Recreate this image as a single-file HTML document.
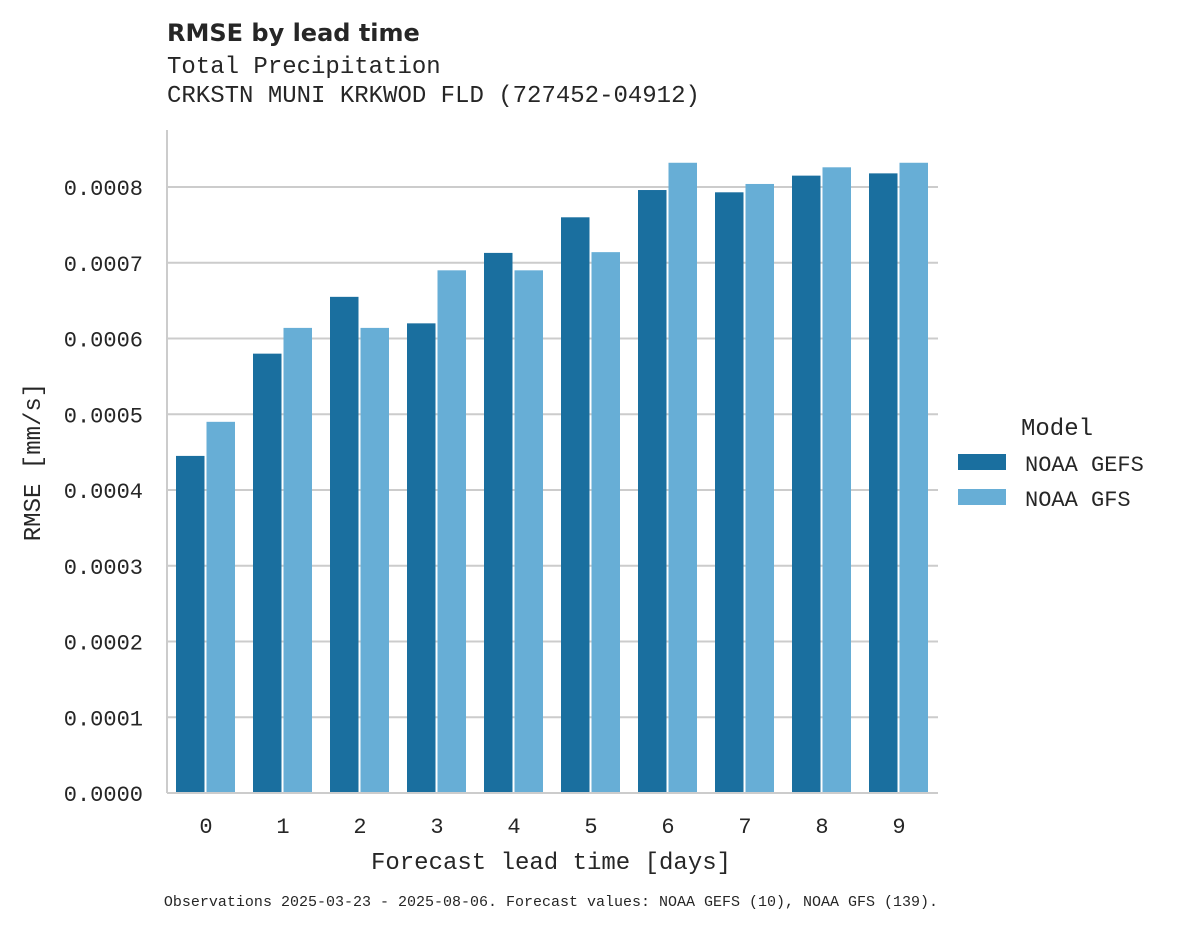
<!DOCTYPE html>
<html><head><meta charset="utf-8"><style>
body{margin:0;background:#fff;}
svg text{fill:#262626;}
.mono{font-family:"Liberation Mono","DejaVu Sans Mono",monospace;}
</style></head><body>
<svg width="1178" height="928" xmlns="http://www.w3.org/2000/svg">
<text x="167" y="41" font-family="'DejaVu Sans','Liberation Sans',sans-serif" font-weight="bold" font-size="24">RMSE by lead time</text>
<text class="mono" x="167" y="73" font-size="24">Total Precipitation</text>
<text class="mono" x="167" y="102" font-size="24">CRKSTN MUNI KRKWOD FLD (727452-04912)</text>
<g id="grid"></g>
<g id="bars"></g>
<g id="yticks"></g>
<g id="xticks"></g>
<line x1="167" y1="130" x2="167" y2="793" stroke="#cccccc" stroke-width="2"/>
<line x1="167" y1="793" x2="938" y2="793" stroke="#cccccc" stroke-width="2"/>
<text class="mono" x="551" y="869" font-size="24" text-anchor="middle">Forecast lead time [days]</text>
<text class="mono" x="40" y="462" font-size="24" text-anchor="middle" transform="rotate(-90 40 462)">RMSE [mm/s]</text>
<g>
<text class="mono" x="1057" y="435" font-size="24" text-anchor="middle">Model</text>
<rect x="958" y="454" width="48" height="16" fill="#1a6f9f"/>
<text class="mono" x="1025" y="471" font-size="22">NOAA GEFS</text>
<rect x="958" y="489" width="48" height="16" fill="#67aed6"/>
<text class="mono" x="1025" y="506" font-size="22">NOAA GFS</text>
</g>
<text class="mono" x="551" y="906" font-size="15" text-anchor="middle">Observations 2025-03-23 - 2025-08-06. Forecast values: NOAA GEFS (10), NOAA GFS (139).</text>
</svg>
<script>
const categories=[0,1,2,3,4,5,6,7,8,9];
const gefs=[0.000445,0.00058,0.000655,0.00062,0.000713,0.00076,0.000796,0.000793,0.000815,0.000818];
const gfs=[0.00049,0.000614,0.000614,0.00069,0.00069,0.000714,0.000832,0.000804,0.000826,0.000832];
const yTicks=[0,0.0001,0.0002,0.0003,0.0004,0.0005,0.0006,0.0007,0.0008];
const NS="http://www.w3.org/2000/svg";
function y(v){return 793-v/0.0008*606;}
function x(i){return 206+i*77;}
function mk(tag,attrs,parent){const e=document.createElementNS(NS,tag);for(const k in attrs)e.setAttribute(k,attrs[k]);document.getElementById(parent).appendChild(e);return e;}
yTicks.forEach((t,i)=>{
  if(t>0){const g=mk('line',{x1:167,x2:938,y1:y(t),y2:y(t),stroke:'#cccccc','stroke-width':2},'grid');
  
  }
  const tx=mk('text',{x:143,y:y(t)+8,'font-size':22,'text-anchor':'end',class:'mono'},'yticks');
  tx.textContent=t.toFixed(4);
  
  
});
categories.forEach((c,i)=>{
  const b1=mk('rect',{x:x(i)-30,y:y(gefs[i]),width:28.5,height:793-y(gefs[i]),fill:'#1a6f9f'},'bars');
  
  
  const b2=mk('rect',{x:x(i)+0.5,y:y(gfs[i]),width:28.5,height:793-y(gfs[i]),fill:'#67aed6'},'bars');
  
  
  const t=mk('text',{x:x(i),y:833,'font-size':22,'text-anchor':'middle',class:'mono'},'xticks');
  t.textContent=c;
  
  
});
</script>
</body></html>
